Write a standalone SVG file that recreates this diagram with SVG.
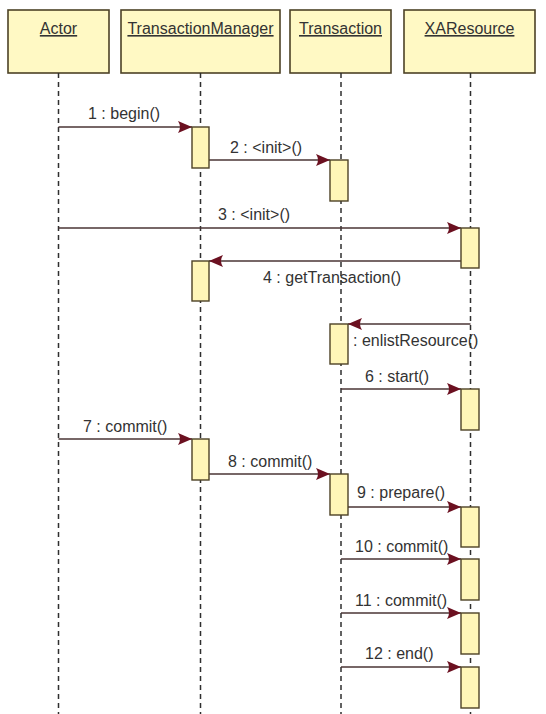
<svg xmlns="http://www.w3.org/2000/svg" width="546" height="714" viewBox="0 0 546 714">
<style>
.hdr{fill:#fff9c4;stroke:#4d4226;stroke-width:1.6}
.act{fill:#fff6b8;stroke:#4d4226;stroke-width:1.4}
.life{stroke:#2f2f2f;stroke-width:1.5;stroke-dasharray:5,4;fill:none}
.msg{stroke:#4a3434;stroke-width:1.5;fill:none;marker-end:url(#ah)}
.t{font-family:"Liberation Sans",Arial,sans-serif;font-size:16px;fill:#333}
.h{font-family:"Liberation Sans",Arial,sans-serif;font-size:16px;fill:#333;text-anchor:middle;text-decoration:underline}
</style>
<defs>
<marker id="ah" markerUnits="userSpaceOnUse" markerWidth="15" markerHeight="13" refX="14" refY="6.5" orient="auto">
<path d="M0,0.5 L14,6.5 L0,12.5 Q4,6.5 0,0.5 z" fill="#6b1020"/>
</marker>
</defs>
<rect width="546" height="714" fill="#fff"/>
<g id="actor">
<rect class="hdr" x="8" y="10" width="101" height="63"/>
<text class="h" x="58.5" y="34">Actor</text>
<line class="life" x1="58.5" y1="73" x2="58.5" y2="714"/>
</g>
<g id="transactionManager">
<rect class="hdr" x="121" y="10" width="159" height="63"/>
<text class="h" x="200.5" y="34">TransactionManager</text>
<line class="life" x1="200.5" y1="73" x2="200.5" y2="714"/>
</g>
<g id="transaction">
<rect class="hdr" x="290" y="10" width="101" height="63"/>
<text class="h" x="340.5" y="34">Transaction</text>
<line class="life" x1="341" y1="73" x2="341" y2="714"/>
</g>
<g id="xaResource">
<rect class="hdr" x="404" y="10" width="131" height="63"/>
<text class="h" x="469.5" y="34">XAResource</text>
<line class="life" x1="470.5" y1="73" x2="470.5" y2="714"/>
</g>
<g id="connectors">
<line class="msg" x1="58.5" y1="127" x2="192" y2="127"/>
<text class="t" x="88" y="119">1 : begin()</text>
<line class="msg" x1="209" y1="160" x2="330" y2="160"/>
<text class="t" x="230" y="153">2 : &lt;init&gt;()</text>
<line class="msg" x1="58.5" y1="228" x2="461" y2="228"/>
<text class="t" x="218" y="220">3 : &lt;init&gt;()</text>
<line class="msg" x1="461" y1="261" x2="209" y2="261"/>
<text class="t" x="263" y="283">4 : getTransaction()</text>
<line class="msg" x1="470.5" y1="324" x2="348" y2="324"/>
<text class="t" x="353" y="346">: enlistResource()</text>
<line class="msg" x1="341" y1="389" x2="461" y2="389"/>
<text class="t" x="365" y="382">6 : start()</text>
<line class="msg" x1="58.5" y1="439" x2="192" y2="439"/>
<text class="t" x="83" y="432">7 : commit()</text>
<line class="msg" x1="209" y1="474" x2="330" y2="474"/>
<text class="t" x="228" y="467">8 : commit()</text>
<line class="msg" x1="348" y1="507" x2="461" y2="507"/>
<text class="t" x="357" y="498">9 : prepare()</text>
<line class="msg" x1="341" y1="559" x2="461" y2="559"/>
<text class="t" x="355" y="552">10 : commit()</text>
<line class="msg" x1="341" y1="613" x2="461" y2="613"/>
<text class="t" x="355" y="606">11 : commit()</text>
<line class="msg" x1="341" y1="667" x2="461" y2="667"/>
<text class="t" x="365" y="659">12 : end()</text>
</g>
<g id="activations">
<rect class="act" x="192" y="127" width="17" height="41"/>
<rect class="act" x="330" y="160" width="18" height="41"/>
<rect class="act" x="461" y="228" width="18" height="40"/>
<rect class="act" x="192" y="261" width="17" height="40"/>
<rect class="act" x="330" y="324" width="18" height="40"/>
<rect class="act" x="461" y="389" width="18" height="41"/>
<rect class="act" x="192" y="439" width="17" height="41"/>
<rect class="act" x="330" y="474" width="18" height="41"/>
<rect class="act" x="461" y="507" width="18" height="40"/>
<rect class="act" x="461" y="559" width="18" height="41"/>
<rect class="act" x="461" y="613" width="18" height="41"/>
<rect class="act" x="461" y="667" width="18" height="41"/>
</g>
</svg>
